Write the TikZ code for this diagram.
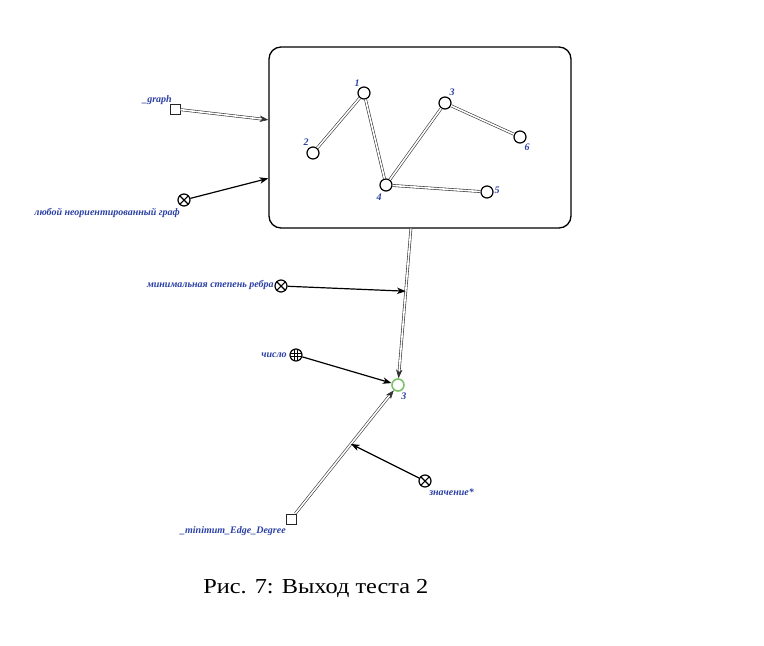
\documentclass[tikz,border=0pt]{standalone}
\usepackage{fontspec}
\setmainfont{Liberation Serif}
\usetikzlibrary{arrows.meta,calc}
\definecolor{lblue}{HTML}{2A3FA5}
\definecolor{vgreen}{HTML}{7DC36B}
\begin{document}
\begin{tikzpicture}[x=0.75pt,y=-0.75pt,
  lbl/.style={font=\bfseries\itshape\fontsize{7.5}{8}\selectfont, text=lblue, inner sep=0pt},
  vert/.style={circle,draw,line width=0.9pt,minimum size=9pt,inner sep=0pt,fill=white},
  gvert/.style={circle,draw=vgreen,line width=1.2pt,minimum size=9pt,inner sep=0pt,fill=white},
  sq/.style={rectangle,draw=black!85,line width=0.7pt,minimum size=7.5pt,inner sep=0pt,fill=white},
  xcirc/.style={circle,draw,line width=0.9pt,minimum size=9pt,inner sep=0pt,fill=white,
    path picture={\draw[line width=0.8pt]
      (path picture bounding box.south west) -- (path picture bounding box.north east)
      (path picture bounding box.north west) -- (path picture bounding box.south east);}},
  gcirc/.style={circle,draw,line width=0.9pt,minimum size=9pt,inner sep=0pt,fill=white,
    path picture={\draw[line width=0.6pt]
      ([xshift=-1.3pt]path picture bounding box.north) -- ([xshift=-1.3pt]path picture bounding box.south)
      ([xshift=1.3pt]path picture bounding box.north) -- ([xshift=1.3pt]path picture bounding box.south)
      ([yshift=-1.3pt]path picture bounding box.west) -- ([yshift=-1.3pt]path picture bounding box.east)
      ([yshift=1.3pt]path picture bounding box.west) -- ([yshift=1.3pt]path picture bounding box.east);}},
  dbl/.style={draw=black!80, double=white, double distance=1.2pt, line width=0.45pt},
  atip/.style={-{Stealth[length=6.5pt,width=4.8pt,inset=1.8pt]}},
  arr/.style={atip, line width=0.9pt},
  captxt/.style={font=\fontsize{16}{18}\selectfont, inner sep=0pt}
]
\useasboundingbox (0,0) rectangle (764,646);
% main box
\node[draw, rounded corners=9pt, line width=1pt, minimum width=226.5pt, minimum height=135.75pt, inner sep=0pt] (box) at (420,137.5) {};
% graph vertices
\node[vert] (v1) at (364,93) {};
\node[vert] (v2) at (313,153) {};
\node[vert] (v3) at (445,103) {};
\node[vert] (v4) at (386,185) {};
\node[vert] (v5) at (487,192) {};
\node[vert] (v6) at (520,137) {};
\node[lbl] (l1) at (357,83) {1};
\node[lbl] (l2) at (306,142) {2};
\node[lbl] (l3) at (452,92) {3};
\node[lbl] (l4) at (379,197) {4};
\node[lbl] (l5) at (497,190) {5};
\node[lbl] (l6) at (527,147) {6};
\draw[dbl] (v1) -- (v2);
\draw[dbl] (v1) -- (v4);
\draw[dbl] (v4) -- (v3);
\draw[dbl] (v3) -- (v6);
\draw[dbl] (v4) -- (v5);
% inputs to box
\node[sq] (gsq) at (175,109) {};
\node[lbl, anchor=base east] (gl) at (172,102) {\_graph};
\node[xcirc] (x1) at (184,200) {};
\node[lbl, anchor=base east] (x1l) at (180,215) {любой неориентированный граф};
\coordinate (bin1) at ($(box.north west)!0.403!(box.south west)$);
\coordinate (bin2) at ($(box.north west)!0.724!(box.south west)$);
\draw[dbl, atip] (gsq) -- (bin1);
\draw[arr] (x1) -- (bin2);
% output
\coordinate (bout) at ($(box.south west)!0.47!(box.south east)$);
\node[gvert] (res) at (398,385) {};
\node[lbl, anchor=base west] (resl) at (401,399) {3};
\draw[dbl, atip] (bout) -- (res);
\coordinate (j1) at ($(bout)!0.40!(res)$);
\node[xcirc] (x2) at (281,286) {};
\node[lbl, anchor=base east] (x2l) at (274,287) {минимальная степень ребра};
\draw[arr] (x2) -- (j1);
\node[gcirc] (g1) at (296,355) {};
\node[lbl, anchor=base east] (g1l) at (287,357) {число};
\draw[arr] (g1) -- (res);
\node[sq] (msq) at (291,519) {};
\node[lbl, anchor=base east] (msql) at (286,533) {\_minimum\_Edge\_Degree};
\draw[dbl, atip] (msq) -- (res);
\coordinate (j2) at ($(msq)!0.56!(res)$);
\node[xcirc] (x3) at (425,481) {};
\node[lbl, anchor=base west] (x3l) at (429,495) {значение*};
\draw[arr] (x3) -- (j2);
% caption
\node[captxt, anchor=base west] (capt) at (203,593) {\scalebox{1.14}[1]{Рис. 7: Выход теста 2}};
\end{tikzpicture}
\end{document}
